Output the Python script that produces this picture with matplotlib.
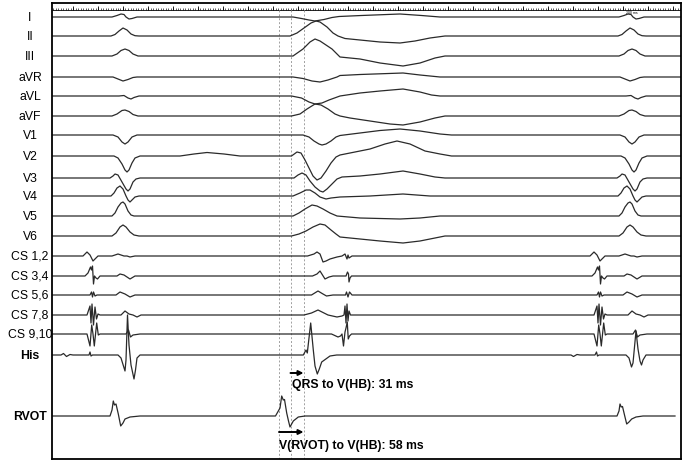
import matplotlib
matplotlib.use('Agg')
from matplotlib import pyplot as plt
import numpy as np

plt.rcParams['font.family'] = ['Liberation Sans', 'DejaVu Sans']

# channel names, top to bottom
labels = ['I', 'II', 'III', 'aVR', 'aVL', 'aVF', 'V1', 'V2', 'V3', 'V4', 'V5', 'V6',
          'CS 1,2', 'CS 3,4', 'CS 5,6', 'CS 7,8', 'CS 9,10', 'His', 'RVOT']
bold_labels = ['His', 'RVOT']

# timing (ms)
beat_times = [145, 1159]      # sinus QRS reference times
t_end = 1259
rvot_end = 1247
t_vrvot, t_qrs, t_vhb = 455, 478, 504
qrs_text = 'QRS to V(HB): 31 ms'
rvot_text = 'V(RVOT) to V(HB): 58 ms'

# sinus beat templates: (ms from beat reference, amplitude)
I_sin = [(-24, 0), (-14, 1.5), (-6, 3), (0, 2.5), (4, 0), (10, -2), (16, -1.5), (26, 0)]
II_sin = [(-26, 0), (-18, 1.5), (-10, 5), (-2, 8), (6, 6), (14, 2), (22, 0.3), (30, 0)]
III_sin = [(-24, 0), (-14, 2), (-6, 5.5), (2, 7), (10, 5.5), (18, 2), (28, 0)]
aVR_sin = [(-22, 0), (-12, -2), (-2, -4), (8, -2.5), (18, -0.5), (26, 0)]
aVL_sin = [(-10, 0), (0, 0.5), (8, -2), (14, -3), (20, -1.5), (30, 0)]
aVF_sin = [(-24, 0), (-14, 2), (-4, 5.5), (2, 6), (10, 4.5), (18, 1.5), (28, 0)]
V1_sin = [(-22, 0), (-12, -2), (-4, -7), (2, -9), (8, -7), (16, -2), (26, 0)]
V2_sin = [(-20, 0), (-12, -2), (-4, -8), (2, -14), (6, -16), (10, -14), (16, -7), (22, -2), (32, 0),
          (112, 0), (140, 2), (166, 3.5), (200, 2), (232, 0)]
V3_sin = [(-28, 0), (-22, 2), (-18, 4), (-12, 3), (-4, -4), (4, -11), (8, -13), (12, -11), (18, -4),
          (24, -1), (32, 0)]
V4_sin = [(-26, 0), (-20, 3), (-14, 8), (-8, 10), (-2, 7), (4, 0), (8, -4), (12, -6), (16, -4),
          (22, -1), (30, 0)]
V5_sin = [(-24, 0), (-18, 3), (-12, 9), (-6, 13), (-2, 14), (2, 12), (8, 5), (14, 1), (20, 0)]
V6_sin = [(-24, 0), (-16, 3), (-8, 9), (-2, 11), (4, 9), (12, 4), (20, 1), (30, 0)]
CS12_sin = [(-82, 0), (-74, 4), (-68, 1), (-62, -5), (-58, -3), (-52, 0), (-24, 0), (-18, 1),
            (-12, 2), (-6, 1), (0, 0), (6, 0), (12, -1), (22, 0)]
CS34_sin = [(-78, 0), (-72, 3), (-67, 9), (-65, 6), (-63, 10), (-61, -8), (-59, 0), (-56, -2),
            (-53, -3), (-48, 0), (-14, 0), (-8, 2), (0, 1), (12, -3), (22, 0)]
CS56_sin = [(-68, 0), (-65, 3), (-63, -2), (-61, 3), (-58, -1), (-54, 0), (-16, 0), (-8, 3),
            (2, 1), (12, -2), (22, 0)]
CS78_sin = [(-74, 0), (-68, 9), (-66, -8), (-64, 11), (-61, -10), (-58, 8), (-55, -4), (-52, 1),
            (-48, 0), (-6, 0), (2, 4), (10, 1), (18, 0), (26, -2), (34, 0)]
CS910_sin = [(-74, 0), (-68, -12), (-64.6, 9), (-62, 0), (-59.4, -12), (-54.6, 11), (-51.4, -1),
             (-48, 0), (4, 0), (9, 4), (13, -3), (18, -1), (32, 0)]
His_sin1 = [(-126, 0), (-121, 1.5), (-115, -1.5), (-108, 0.5), (-102, 0), (-70, 0), (-68, 3),
            (-66, -1), (-63, 0), (-12, 0), (-6, -3), (2, -16), (4, -5), (7, 40), (10, 10),
            (14, -10), (20, -24), (23, -15), (26, -3), (32, 0)]
His_sin3 = [(-120, 0), (-115, -1.5), (-108, 0.5), (-102, 0), (-72, 0), (-69, 3), (-67, -1),
            (-64, 0), (-10, 0), (-4, -3), (1, -12), (4, -8), (10, 24), (14, 6), (18, -6),
            (21, -10), (24, -5), (30, 0)]
RVOT_sin1 = [(-28, 0), (-24, 6), (-21.4, 15), (-19, 11), (-16, 12), (-11.4, 2), (-6.6, -10),
             (-2, -7), (2, -3), (12, -1), (32, 0)]
RVOT_sin3 = [(-28, 0), (-24, 5), (-22, 12), (-19.5, 9), (-17, 9.5), (-13, 1), (-8.6, -8),
             (-4, -6), (1.4, -3), (10, -1), (24, 0)]

# paced beat: (ms, amplitude)
I_pac = [(483, 0), (500, -1.5), (515, -3), (527, -4), (545, -2.5), (561, -0.5), (575, 0.5),
         (620, 1.5), (697, 3), (740, 1.5), (777, 0)]
II_pac = [(477, 0), (491, 3), (505, 8), (519, 13), (529, 15), (537, 14), (551, 9), (563, 3),
          (573, 0), (587, -2.5), (617, -4), (657, -6), (697, -7), (727, -5), (757, -2), (787, 0)]
III_pac = [(483, 0), (503, 7), (517, 14), (527, 17), (537, 15), (549, 11), (561, 7), (571, 2),
           (577, -1), (617, -3), (657, -7), (703, -10), (737, -7), (767, -2), (787, 0)]
aVR_pac = [(483, 0), (503, -1.5), (521, -4), (537, -5), (553, -3), (571, 0), (577, 1.5),
           (617, 2.5), (703, 4), (737, 2), (777, 0)]
aVL_pac = [(480, 0), (500, -2), (515, -6), (527, -8), (541, -7), (555, -4), (577, 0), (617, 3),
           (657, 5), (703, 7), (737, 4), (760, 1), (777, 0)]
aVF_pac = [(480, 0), (497, 2), (511, 7), (527, 12), (539, 11), (553, 7), (567, 2), (577, 0),
           (597, -2), (637, -5), (677, -8), (703, -9), (737, -6), (767, -2), (787, 0)]
V1_pac = [(503, 0), (515, -2), (525, -6), (535, -9), (541, -10), (549, -9), (559, -6), (569, -2),
          (577, -0.5), (617, 2), (657, 4.5), (697, 6), (737, 4), (777, 1), (800, 0)]
V2_pac = [(480, 0), (491, 4), (499, 3), (507, -4), (515, -12), (523, -20), (531, -24), (539, -22),
          (549, -15), (559, -7), (569, -1), (577, 1), (597, 3), (637, 7), (667, 12), (691, 15),
          (717, 12), (747, 5), (777, 2), (800, 0)]
V3_pac = [(485, 0), (493, 3), (501, 5), (509, 3), (517, -3), (527, -9), (537, -13), (543, -14),
          (551, -11), (561, -6), (571, -1), (581, 1), (617, 2), (657, 4), (703, 7), (737, 4),
          (767, 1), (787, 0)]
V4_pac = [(483, 0), (497, 3), (509, 6), (517, 6), (527, 3), (537, -1), (549, -3), (559, -2),
          (577, -1), (637, 0), (703, 2), (757, 0)]
V5_pac = [(483, 0), (495, 3), (507, 7), (521, 11), (531, 10), (543, 7), (557, 3), (571, 0),
          (617, -2), (657, -2.5), (697, -3), (737, -2), (777, 0)]
V6_pac = [(480, 0), (495, 2), (509, 5), (523, 9), (537, 12), (547, 11), (559, 6), (569, 2),
          (577, -1), (617, -3), (657, -5), (703, -7), (737, -5), (767, -2), (787, 0)]
CS12_pac = [(512, 0), (525, 2), (531, 4), (537, 2), (543, -6), (549, -5), (557, -3), (571, -1),
            (581, 0), (587, 2), (591, -3), (593, 1), (595, -2), (601, 0)]
CS34_pac = [(522, 0), (531, 2), (537, 5), (542, 1), (547, -3), (555, -1), (563, 0), (589, 0),
            (592, 4), (594, 2), (595, -6), (597, -2), (600, 0)]
CS56_pac = [(520, 0), (533, 4), (543, 1), (550, -1), (563, 0), (588, 0), (590, 3), (593, -2),
            (596, 3), (601, 0)]
CS78_pac = [(505, 0), (520, 2), (533, 5), (545, 2), (553, 0), (571, -2), (581, -1), (585, 0),
            (587, 9), (589, -8), (591, 11), (593, -6), (595, 4), (598, 0), (610, 0)]
CS910_pac = [(560, 0), (573, -3), (578, -2), (581, 0), (584, -12), (587, 2), (589, 6),
             (591.5, 12), (593.5, -5), (596, -2), (600, 0)]
His_pac = [(500, 0), (503.6, 0), (509, 5), (511.6, 2), (518.4, 32), (523.6, 5), (527, -11),
           (531.6, -19), (535.6, -14), (540.4, -7), (557, -1), (570.4, 0)]
RVOT_pac = [(448, 0), (457, 8), (460.4, 20), (463.6, 16), (466, 16.5), (470.4, 3), (474, -5),
            (477, -11), (483.6, -5), (493.6, -1), (507, 0)]

sinus_first = [I_sin, II_sin, III_sin, aVR_sin, aVL_sin, aVF_sin, V1_sin, V2_sin, V3_sin, V4_sin,
               V5_sin, V6_sin, CS12_sin, CS34_sin, CS56_sin, CS78_sin, CS910_sin, His_sin1, RVOT_sin1]
sinus_last = sinus_first[:17] + [His_sin3, RVOT_sin3]
paced = [I_pac, II_pac, III_pac, aVR_pac, aVL_pac, aVF_pac, V1_pac, V2_pac, V3_pac, V4_pac,
         V5_pac, V6_pac, CS12_pac, CS34_pac, CS56_pac, CS78_pac, CS910_pac, His_pac, RVOT_pac]

# layout: baseline row of each channel (top = 0)
row_y = [18, 37, 57, 78, 97, 117, 136, 157, 179, 197, 217, 237,
         257, 277, 296, 316, 335, 356, 417]
y_top, y_bottom = 4, 459.5
ruler_y = 11


def build(sin1, pac, sin3, end):
    pts = [(0.0, 0.0)]
    pts += [(beat_times[0] + dt, a) for dt, a in sin1]
    pts += list(pac)
    pts += [(beat_times[1] + dt, a) for dt, a in sin3]
    pts = [p for p in pts if p[0] < end]
    pts.append((end, 0.0))
    pts.sort()
    t = np.array([p[0] for p in pts])
    a = np.array([p[1] for p in pts])
    return t, a


fig = plt.figure(figsize=(6.85, 4.64), dpi=100)
ax = fig.add_axes([51.5 / 685, (464 - y_bottom) / 464, 629.5 / 685, (y_bottom - y_top) / 464])
ax.set_xlim(0, t_end)
ax.set_ylim(y_bottom, y_top)
ax.set_xticks([])
ax.set_yticks([])
for s in ax.spines.values():
    s.set_linewidth(1.3)

# timing ruler
ax.hlines(ruler_y, 0, t_end, color='k', lw=0.6)
ax.vlines(np.arange(3, t_end, 5), ruler_y - 2, ruler_y, color='k', lw=0.45)
ax.vlines(np.arange(43, t_end, 50), ruler_y - 4, ruler_y, color='k', lw=0.6)
ax.text(1160, 13.5, '200 ms', fontsize=2.5, ha='center', va='center')

# reference lines
ax.vlines([t_vrvot, t_qrs, t_vhb], ruler_y, y_bottom, colors='#a0a0a0', lw=0.7,
          linestyles=(0, (2, 2)))

lab_tr = ax.get_yaxis_transform()
for i, name in enumerate(labels):
    end = rvot_end if name == 'RVOT' else t_end
    t, a = build(sinus_first[i], paced[i], sinus_last[i], end)
    ax.plot(t, row_y[i] - a, color='#2a2a2a', lw=0.9)
    ax.text(-21.5 / 629.5, row_y[i], name, transform=lab_tr, ha='center', va='center',
            fontsize=8.8, fontweight='bold' if name in bold_labels else 'normal', clip_on=False)

# interval annotations
arrow = dict(arrowstyle='-|>', color='k', lw=1.4, mutation_scale=7, shrinkA=0, shrinkB=0)
ax.annotate('', xy=(t_vhb, 374), xytext=(t_qrs, 374), arrowprops=arrow)
ax.text(t_qrs + 4, 385, qrs_text, fontsize=8.8, fontweight='bold', ha='left', va='center')
ax.annotate('', xy=(t_vhb, 433), xytext=(t_vrvot, 433), arrowprops=arrow)
ax.text(t_vrvot, 446, rvot_text, fontsize=8.8, fontweight='bold', ha='left', va='center')

fig.savefig('out.png', dpi=100)
